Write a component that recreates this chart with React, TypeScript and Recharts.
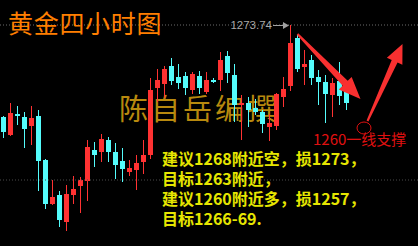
import { ComposedChart, Bar, XAxis, YAxis, ReferenceLine } from 'recharts';

// 4h gold candles
const opens = [
  1264.54, 1262.74, 1264.84, 1264.54, 1263.64, 1264.64, 1260.24, 1255.84, 1256.74, 1254.04,
  1256.74, 1257.64, 1258.14, 1261.24, 1261.04, 1262.24, 1261.04, 1260.14, 1259.04, 1259.24,
  1260.04, 1260.74, 1267.44, 1267.84, 1269.64, 1268.54, 1268.64, 1267.24, 1268.64, 1267.04,
  1268.24, 1268.24, 1270.64, 1268.74, 1265.74, 1265.94, 1265.44, 1265.04, 1263.54, 1263.64,
  1266.54, 1267.64, 1272.44, 1269.54, 1270.24, 1268.54, 1268.04, 1266.74, 1268.14, 1267.54,
];
const closes = [
  1263.04, 1264.94, 1264.64, 1263.34, 1264.44, 1260.14, 1255.84, 1256.54, 1254.24, 1256.84,
  1257.34, 1258.24, 1261.54, 1260.74, 1262.34, 1261.04, 1259.74, 1259.34, 1259.44, 1259.94,
  1260.74, 1267.24, 1268.24, 1269.34, 1268.14, 1267.94, 1267.44, 1268.84, 1267.44, 1268.24,
  1268.04, 1270.24, 1268.94, 1265.74, 1265.94, 1265.24, 1265.04, 1263.84, 1263.94, 1266.84,
  1267.34, 1271.94, 1269.34, 1269.84, 1268.44, 1268.04, 1266.84, 1267.94, 1266.64, 1265.94,
];
const highs = [
  1264.64, 1265.94, 1265.64, 1265.04, 1265.64, 1265.24, 1260.34, 1258.24, 1257.14, 1257.74,
  1258.64, 1258.54, 1262.24, 1262.04, 1262.84, 1262.54, 1261.94, 1261.44, 1260.24, 1260.74,
  1262.24, 1268.44, 1269.34, 1269.64, 1270.44, 1269.84, 1269.04, 1269.04, 1269.14, 1269.04,
  1268.44, 1271.04, 1271.14, 1269.84, 1266.74, 1266.54, 1266.34, 1265.24, 1264.84, 1266.94,
  1268.54, 1273.74, 1272.74, 1271.24, 1270.74, 1269.24, 1268.74, 1268.44, 1270.04, 1267.84,
];
const lows = [
  1262.44, 1262.64, 1263.74, 1261.44, 1261.74, 1257.14, 1255.34, 1255.74, 1253.54, 1253.14,
  1255.84, 1254.94, 1256.14, 1259.54, 1260.04, 1260.04, 1258.34, 1258.04, 1258.64, 1257.24,
  1258.84, 1260.34, 1266.04, 1266.44, 1267.74, 1267.34, 1266.74, 1266.84, 1266.84, 1266.84,
  1267.94, 1267.14, 1267.94, 1264.04, 1262.24, 1263.54, 1264.74, 1262.94, 1262.14, 1263.24,
  1265.54, 1267.14, 1269.04, 1267.74, 1267.74, 1265.74, 1263.94, 1264.54, 1265.74, 1265.24,
];
const SLOTS = 60; // empty room right of the last candle
const HIGH_MARK = 1273.74;
const LOW_MARK = 1258.24;

const RED = '#ff3232';
const CYAN = '#54fcfc';

const data = Array.from({ length: SLOTS }, (_, i) => ({
  idx: i,
  open: opens[i],
  close: closes[i],
  high: highs[i],
  low: lows[i],
}));

function Candle(props: any) {
  const { x, y, width, height, payload } = props;
  if (payload == null || payload.high == null) return null;
  const { open, close, high, low } = payload;
  const top = Math.min(y, y + height);
  const h = Math.abs(height);
  const k = h / (high - low);
  const bTop = top + (high - Math.max(open, close)) * k;
  const bBot = top + (high - Math.min(open, close)) * k;
  const color = close >= open ? RED : CYAN;
  const cx = Math.floor(x + width / 2) + 0.5;
  return (
    <g>
      <line x1={cx} x2={cx} y1={top} y2={top + h} stroke={color} strokeWidth={1} />
      <rect x={cx - 2.5} y={bTop} width={5} height={Math.max(bBot - bTop, 1)} fill={color} />
    </g>
  );
}

const arrow = (headLen: number, headHalf: number, w0: number, w1: number) => (p: any) => {
  const { x1, y1, x2, y2 } = p;
  const dx = x2 - x1;
  const dy = y2 - y1;
  const L = Math.hypot(dx, dy);
  const ux = dx / L, uy = dy / L;
  const nx = -uy, ny = ux;
  const bx = x2 - ux * headLen, by = y2 - uy * headLen;
  const pts = [
    [x1 + nx * w0, y1 + ny * w0],
    [bx + nx * w1, by + ny * w1],
    [bx + nx * headHalf, by + ny * headHalf],
    [x2, y2],
    [bx - nx * headHalf, by - ny * headHalf],
    [bx - nx * w1, by - ny * w1],
    [x1 - nx * w0, y1 - ny * w0],
  ];
  return <polygon points={pts.map((q) => q.join(',')).join(' ')} fill="#f83030" />;
};

const priceTag = (p: any) => {
  const { x1, y1, x2 } = p;
  const tip = x2 - 1.5;
  return (
    <g>
      <text x={x1 - 4.5} y={y1 + 4} textAnchor="end" fill="#a8a8a8" fontSize={11.5}
        fontFamily="Liberation Sans, Arial, sans-serif">
        {HIGH_MARK.toFixed(2)}
      </text>
      <line x1={x1 - 3.5} x2={tip - 3} y1={y1 + 0.5} y2={y1 + 0.5} stroke="#a0a0a0" strokeWidth={1} />
      <polygon points={`${tip},${y1 + 0.5} ${tip - 6},${y1 - 3} ${tip - 6},${y1 + 4}`} fill="#a0a0a0" />
    </g>
  );
};

const ring = (p: any) => {
  const { x1, y1, x2 } = p;
  return <ellipse cx={(x1 + x2) / 2} cy={y1} rx={7} ry={6} fill="none" stroke="#e01010" strokeWidth={1} />;
};

export default function App() {
  return (
    <div style={{ position: 'fixed', left: 0, top: 0, width: 418, height: 246, background: '#000', overflow: 'hidden' }}>
      <div
        style={{
          position: 'absolute', left: 119, top: 93, fontSize: 29, lineHeight: '29px', letterSpacing: 3,
          color: '#b8890e', fontFamily: 'Noto Sans CJK SC', whiteSpace: 'nowrap',
        }}
      >
        陈自岳编撰
      </div>
      <div style={{ position: 'absolute', left: 0, top: 0 }}>
        <ComposedChart width={418} height={246} data={data} margin={{ top: 0, right: -2, left: 0, bottom: 0 }}>
          <XAxis dataKey="idx" hide />
          <YAxis hide domain={[1251.64, 1276.24]} allowDataOverflow />
          <ReferenceLine y={HIGH_MARK} stroke="#6c6c6c" strokeDasharray="1 2" />
          <ReferenceLine y={LOW_MARK} stroke="#4a4a4a" strokeDasharray="1 2" />
          <Bar
            dataKey={(d: any) => (d.high == null ? null : [d.low, d.high])}
            barSize={5}
            shape={Candle}
            isAnimationActive={false}
          />
          <ReferenceLine segment={[{ x: 39, y: HIGH_MARK }, { x: 41, y: HIGH_MARK }]} shape={priceTag} />
          <ReferenceLine segment={[{ x: 42, y: 1272.84 }, { x: 51, y: 1266.34 }]} shape={arrow(22, 9, 1, 3.5)} />
          <ReferenceLine segment={[{ x: 52, y: 1264.14 }, { x: 57, y: 1271.84 }]} shape={arrow(19, 8.5, 1, 3.2)} />
          <ReferenceLine segment={[{ x: 51, y: 1263.44 }, { x: 52, y: 1263.44 }]} shape={ring} />
        </ComposedChart>
      </div>
      <div
        style={{
          position: 'absolute', left: 8, top: 10, fontSize: 25, lineHeight: '25px', letterSpacing: 0.7,
          color: '#ff7f00', fontFamily: 'Noto Sans CJK SC', whiteSpace: 'nowrap',
        }}
      >
        黄金四小时图
      </div>
      <div
        style={{
          position: 'absolute', left: 162, top: 148, fontSize: 16, lineHeight: '20px',
          color: '#e6e600', fontFamily: 'Noto Sans CJK SC', fontWeight: 'bold', whiteSpace: 'pre',
        }}
      >
        {'建议1268附近空，损1273，\n目标1263附近，\n建议1260附近多，损1257，\n目标1266-69.'}
      </div>
      <div
        style={{
          position: 'absolute', left: 313, top: 131, fontSize: 15, lineHeight: '15px',
          color: '#e01010', fontFamily: 'Noto Sans CJK SC', whiteSpace: 'nowrap',
        }}
      >
        1260一线支撑
      </div>
    </div>
  );
}
